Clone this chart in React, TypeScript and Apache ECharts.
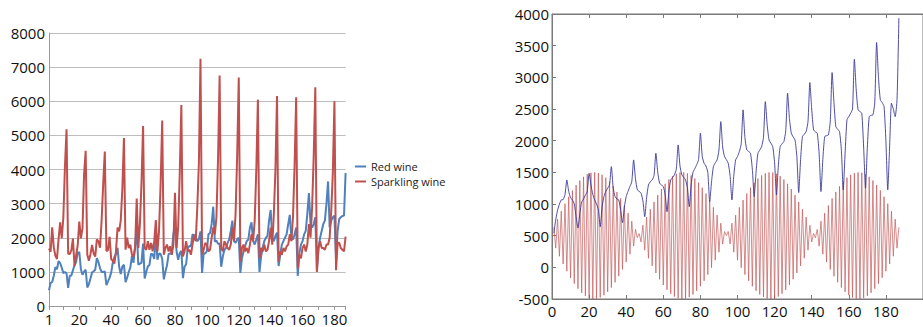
import React, { useEffect, useRef } from "react";
import * as echarts from "echarts";

// Left chart: monthly sales (index 1..187)
const redWine = [
  464, 675, 703, 887, 1139, 1077, 1318, 1260, 1120, 963, 996, 960,
  530, 883, 894, 1045, 1199, 1287, 1565, 1577, 1076, 918, 1008, 1063,
  544, 635, 804, 980, 1018, 1064, 1404, 1286, 1104, 999, 996, 1015,
  615, 722, 832, 977, 1270, 1437, 1520, 1708, 1151, 934, 1159, 1209,
  699, 830, 996, 1124, 1458, 1270, 1753, 2258, 1208, 1241, 1265, 1828,
  809, 997, 1164, 1205, 1538, 1513, 1378, 2083, 1357, 1536, 1526, 1376,
  779, 1005, 1193, 1522, 1539, 1546, 2116, 2326, 1596, 1356, 1553, 1613,
  814, 1150, 1225, 1691, 1759, 1754, 2100, 2062, 2012, 1897, 1964, 2186,
  966, 1549, 1538, 1612, 2109, 2137, 2405, 2910, 1888, 1916, 1819, 1836,
  1150, 1450, 1650, 1700, 1850, 1950, 2200, 2500, 1900, 1850, 1950, 2000,
  970, 1400, 1600, 1750, 1900, 1950, 2300, 2450, 1900, 1800, 1950, 2100,
  1000, 1450, 1700, 1900, 2000, 2050, 2500, 2815, 2000, 1900, 2050, 2150,
  1170, 1500, 1800, 1900, 2000, 2100, 2400, 2670, 2000, 1950, 2100, 2300,
  880, 1550, 1800, 1900, 2100, 2200, 2700, 3310, 2400, 2300, 2400, 2600,
  1055, 1700, 2000, 2200, 2400, 2500, 3000, 3650, 2300, 2500, 2600, 2650,
  1330, 2200, 2550, 2600, 2640, 2650, 3900,
];

const sparklingWine = [
  1686, 1591, 2304, 1712, 1471, 1377, 1966, 2453, 1984, 2596, 4087, 5179,
  1530, 1523, 1633, 1976, 1170, 1480, 1781, 2472, 1981, 2273, 3857, 4551,
  1510, 1329, 1518, 1790, 1537, 1449, 1954, 1897, 1706, 2514, 3593, 4524,
  1609, 1638, 2030, 1375, 1320, 1245, 1600, 2298, 2191, 2511, 3440, 4923,
  1650, 2000, 1700, 1800, 1500, 1450, 1700, 3150, 1700, 2400, 3600, 5274,
  1700, 1650, 1900, 1650, 1850, 1600, 1900, 2520, 1600, 2200, 3600, 5434,
  1500, 1700, 1800, 1600, 1750, 1500, 1800, 3320, 1700, 2300, 3900, 5891,
  1450, 1600, 1900, 1600, 1650, 1500, 1800, 2100, 1900, 2900, 4200, 7242,
  1500, 1650, 1850, 1800, 1600, 1650, 2000, 2300, 2100, 2600, 4300, 6757,
  1700, 1600, 1900, 1800, 1700, 1650, 1800, 2300, 1900, 2700, 4400, 6694,
  1300, 1700, 1800, 1600, 1700, 1550, 1800, 2100, 1900, 2500, 4000, 6047,
  1400, 1700, 1600, 1800, 1600, 1650, 1900, 2300, 1800, 2700, 4000, 6153,
  1300, 1600, 1500, 1700, 1600, 1750, 1800, 2100, 1900, 2600, 4100, 6119,
  1100, 1500, 1400, 1700, 1800, 1600, 1800, 2400, 2000, 2900, 4400, 6410,
  1000, 1700, 1900, 1700, 1700, 1650, 1800, 1800, 2000, 2800, 3900, 5999,
  1050, 1850, 1850, 1700, 1650, 1600, 2030,
];

const leftYTicks = [0, 8000, 1000];

// Right chart: x = 1..187
const rightBlue = [
  538, 750, 900, 1000, 1064, 1070, 1150, 1380, 1200, 1100, 1064, 1000, 800, 620,
  850, 1030, 1080, 1140, 1200, 1485, 1300, 1150, 1064, 1000, 905, 642,
  950, 1117, 1200, 1250, 1300, 1590, 1250, 1117, 1080, 1064, 900, 705,
  950, 1117, 1200, 1275, 1350, 1696, 1400, 1222, 1200, 1170, 1050, 800,
  1100, 1300, 1350, 1380, 1450, 1800, 1500, 1328, 1300, 1275, 1150, 879,
  1200, 1380, 1420, 1460, 1550, 1933, 1600, 1460, 1420, 1380, 1250, 958,
  1300, 1500, 1560, 1620, 1700, 2117, 1750, 1643, 1600, 1500, 1037,
  1350, 1590, 1650, 1696, 1850, 2301, 1900, 1749, 1700, 1643, 1450, 1064,
  1450, 1696, 1750, 1828, 1950, 2486, 2050, 1854, 1830, 1801, 1550, 1117,
  1500, 1801, 1850, 1907, 2050, 2617, 2250, 2012, 1960, 1907, 1650, 1143,
  1600, 1907, 1950, 1986, 2150, 2750, 2350, 2117, 2060, 2012, 1750, 1180,
  1700, 2065, 2100, 2143, 2300, 2917, 2500, 2170, 2140, 2117, 1800, 1196,
  1700, 2065, 2080, 2090, 2300, 3075, 2600, 2222, 2180, 2143, 1850, 1222,
  1800, 2328, 2380, 2433, 2500, 3286, 2800, 2486, 2460, 2433, 1900, 1249,
  1900, 2380, 2400, 2407, 2600, 3550, 3000, 2644, 2600, 2539, 2000, 1222,
  1900, 2591, 2500, 2380, 2650, 3934,
];

const rightSignal = [
  632, 303, 761, 175, 887, 53, 1005, -61, 1114, -165, 1213, -258, 1299, -337, 1371, -402,
  1429, -451, 1469, -484, 1493, -499, 1500, -497, 1489, -477, 1461, -440, 1416, -387,
  1355, -319, 1279, -236, 1189, -140, 1088, -33, 976, 83, 856, 207, 729, 335, 599, 467,
  533, 401, 665, 271, 793, 144, 917, 24, 1033, -88, 1140, -189, 1236, -279, 1319, -355,
  1387, -416, 1440, -461, 1477, -489, 1497, -500, 1499, -493, 1484, -469, 1451, -429,
  1402, -371, 1337, -299, 1258, -213, 1165, -114, 1061, -5, 947, 113, 825, 239, 697, 368, 566,
  500, 566, 368, 697, 239, 825, 113, 947, -5, 1061, -114, 1165, -213, 1258, -299, 1337,
  -371, 1402, -429, 1451, -469, 1484, -493, 1499, -500, 1497, -489, 1477, -461, 1440,
  -416, 1387, -355, 1319, -279, 1236, -189, 1140, -88, 1033, 24, 917, 144, 793, 271, 665, 401, 533,
  467, 599, 335, 729, 207, 856, 83, 976, -33, 1088, -140, 1189, -236, 1279, -319, 1355,
  -387, 1416, -440, 1461, -477, 1489, -497, 1500, -499, 1493, -484, 1469, -451, 1429,
  -402, 1371, -337, 1299, -258, 1213, -165, 1114, -61, 1005, 53, 887, 175, 761, 303, 632,
];

const rightYTicks = [-500, 4000, 500];
const rightXTicks = [0, 200, 20];

const FONT = "'Open Sans', 'Noto Sans', sans-serif";

export default function App() {
  const ref = useRef<HTMLDivElement>(null);
  useEffect(() => {
    if (!ref.current) return;
    const chart = echarts.init(ref.current, undefined, { renderer: "svg" });
    const cats = redWine.map((_, i) => String(i + 1));
    const xy = (arr: number[]) => arr.map((v, i) => [i + 1, v]);
    const plain = (v: number) => String(v);
    const rightAxisColor = "#7a7a7a";
    chart.setOption({
      animation: false,
      legend: {
        data: ["Red wine", "Sparkling wine"],
        orient: "vertical",
        left: 355,
        top: 161,
        itemWidth: 11,
        itemHeight: 2,
        itemGap: 4,
        icon: "rect",
        padding: 0,
        textStyle: { fontSize: 11, color: "#222", fontFamily: FONT, lineHeight: 10 },
      },
      grid: [
        { left: 49, top: 33, width: 296.6, height: 273, containLabel: false },
        {
          left: 552, top: 14, width: 378.8, height: 285,
          show: true, borderColor: rightAxisColor, borderWidth: 1, backgroundColor: "transparent",
        },
      ],
      xAxis: [
        {
          type: "category",
          gridIndex: 0,
          data: cats,
          boundaryGap: false,
          axisLine: { lineStyle: { color: "#999", width: 1 } },
          axisTick: {
            show: true,
            length: 4,
            lineStyle: { color: "#999" },
            interval: (i: number) => i === 0 || (i + 1) % 10 === 0 || i === cats.length - 1,
          },
          axisLabel: {
            interval: (i: number) => i === 0 || (i + 1) % 20 === 0,
            fontSize: 15,
            lineHeight: 15,
            color: "#111",
            fontFamily: FONT,
            margin: 5,
          },
          splitLine: { show: false },
        },
        {
          type: "value",
          gridIndex: 1,
          min: rightXTicks[0],
          max: rightXTicks[1],
          interval: rightXTicks[2],
          axisLine: { show: true, onZero: false, lineStyle: { color: rightAxisColor } },
          axisTick: { show: true, inside: true, length: 4, lineStyle: { color: rightAxisColor } },
          axisLabel: { fontSize: 15, lineHeight: 15, color: "#111", fontFamily: FONT, margin: 4, showMaxLabel: false, formatter: plain },
          splitLine: { show: false },
        },
        {
          type: "value",
          gridIndex: 1,
          position: "top",
          min: rightXTicks[0],
          max: rightXTicks[1],
          interval: rightXTicks[2],
          axisLine: { show: true, onZero: false, lineStyle: { color: rightAxisColor } },
          axisTick: { show: true, inside: true, length: 4, lineStyle: { color: rightAxisColor } },
          axisLabel: { show: false },
          splitLine: { show: false },
        },
      ],
      yAxis: [
        {
          type: "value",
          gridIndex: 0,
          min: leftYTicks[0],
          max: leftYTicks[1],
          interval: leftYTicks[2],
          axisLine: { show: true, lineStyle: { color: "#999" } },
          axisTick: { show: false },
          axisLabel: { fontSize: 15, color: "#111", fontFamily: FONT, margin: 4, formatter: plain },
          splitLine: { show: true, lineStyle: { color: "#bdbdbd", width: 1 } },
        },
        {
          type: "value",
          gridIndex: 1,
          min: rightYTicks[0],
          max: rightYTicks[1],
          interval: rightYTicks[2],
          axisLine: { show: true, onZero: false, lineStyle: { color: rightAxisColor } },
          axisTick: { show: true, inside: true, length: 4, lineStyle: { color: rightAxisColor } },
          axisLabel: { fontSize: 15, color: "#111", fontFamily: FONT, margin: 3, formatter: plain },
          splitLine: { show: false },
        },
      ],
      series: [
        {
          name: "Red wine",
          type: "line",
          xAxisIndex: 0,
          yAxisIndex: 0,
          data: redWine,
          symbol: "none",
          lineStyle: { color: "#4f81bd", width: 2 },
          itemStyle: { color: "#4f81bd" },
        },
        {
          name: "Sparkling wine",
          type: "line",
          xAxisIndex: 0,
          yAxisIndex: 0,
          data: sparklingWine,
          symbol: "none",
          lineStyle: { color: "#c0504d", width: 2 },
          itemStyle: { color: "#c0504d" },
        },
        {
          name: "signal",
          type: "line",
          xAxisIndex: 1,
          yAxisIndex: 1,
          data: xy(rightSignal),
          symbol: "none",
          lineStyle: { color: "#c25555", width: 0.9, opacity: 0.75 },
        },
        {
          name: "filtered",
          type: "line",
          xAxisIndex: 1,
          yAxisIndex: 1,
          data: xy(rightBlue),
          symbol: "none",
          smooth: 0.2,
          lineStyle: { color: "#3a3a9a", width: 0.9 },
        },
      ],
    });
    return () => chart.dispose();
  }, []);
  return (
    <div
      ref={ref}
      style={{ position: "fixed", left: 0, top: 0, width: 923, height: 327, background: "#fff" }}
    />
  );
}
